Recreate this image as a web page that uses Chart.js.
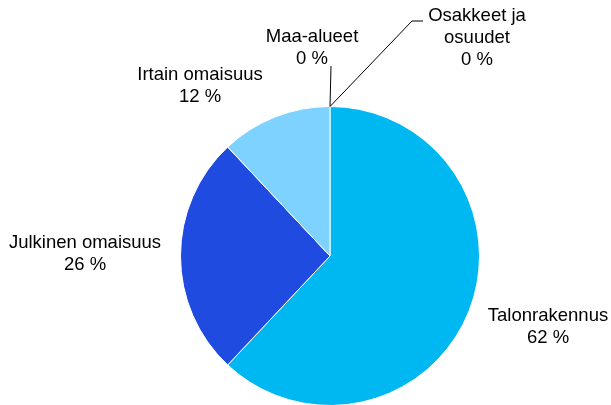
<!DOCTYPE html>
<html>
<head>
<meta charset="utf-8">
<script src="https://cdn.jsdelivr.net/npm/chart.js@4/dist/chart.umd.min.js"></script>
<style>
  html, body { margin: 0; padding: 0; background: #fff; overflow: hidden; width: 611px; height: 405px; }
  #wrap { position: relative; width: 611px; height: 420px; }
</style>
</head>
<body>
<div id="wrap"><canvas id="c" width="611" height="420"></canvas></div>
<script>
// ---- data ----
const categories = [
  ['Talonrakennus'],
  ['Julkinen omaisuus'],
  ['Irtain omaisuus'],
  ['Maa-alueet'],
  ['Osakkeet ja', 'osuudet']
];
const shares = [62, 26, 12, 0, 0];
const sliceColors = ['#00B8F1', '#204BE0', '#7DD2FF', '#A0A0A0', '#606060'];

// ---- label layout (offsets from pie centre, px) ----
const labelLayout = [
  { dx: 218, dy: 71 },
  { dx: -245, dy: -2 },
  { dx: -130, dy: -170 },
  { dx: -18, dy: -208, leader: [[1, -190]] },
  { dx: 147, dy: -218, leader: [[82, -235], [93, -235]] }
];

const FONT = '18.5px "Liberation Sans", Arial, sans-serif';
const LINE_H = 22;

const sliceLabels = {
  id: 'sliceLabels',
  afterDatasetsDraw(chart) {
    const ctx = chart.ctx;
    const meta = chart.getDatasetMeta(0);
    const vals = chart.data.datasets[0].data;
    const total = vals.reduce((a, b) => a + b, 0);
    ctx.save();
    meta.data.forEach((arc, i) => {
      const p = arc.getProps(['x', 'y', 'outerRadius', 'startAngle', 'endAngle'], true);
      const mid = (p.startAngle + p.endAngle) / 2;
      const lay = labelLayout[i];
      if (lay.leader) {
        ctx.beginPath();
        ctx.strokeStyle = '#000';
        ctx.lineWidth = 1;
        ctx.moveTo(p.x + Math.cos(mid) * p.outerRadius, p.y + Math.sin(mid) * p.outerRadius);
        lay.leader.forEach(pt => ctx.lineTo(p.x + pt[0], p.y + pt[1]));
        ctx.stroke();
      }
      const lines = chart.data.labels[i].slice();
      lines.push(Math.round(vals[i] / total * 100) + ' %');
      const cx = p.x + lay.dx, cy = p.y + lay.dy;
      ctx.font = FONT;
      ctx.fillStyle = '#000';
      ctx.textAlign = 'center';
      ctx.textBaseline = 'middle';
      const top = cy - (lines.length - 1) * LINE_H / 2;
      lines.forEach((t, k) => ctx.fillText(t, cx, top + k * LINE_H));
    });
    ctx.restore();
  }
};

new Chart(document.getElementById('c'), {
  type: 'pie',
  data: {
    labels: categories,
    datasets: [{
      data: shares,
      backgroundColor: sliceColors,
      borderColor: '#ffffff',
      borderWidth: 1
    }]
  },
  options: {
    responsive: false,
    animation: false,
    layout: { padding: { left: 180, right: 131, top: 106, bottom: 14 } },
    plugins: { legend: { display: false }, tooltip: { enabled: false } }
  },
  plugins: [sliceLabels]
});
</script>
</body>
</html>
